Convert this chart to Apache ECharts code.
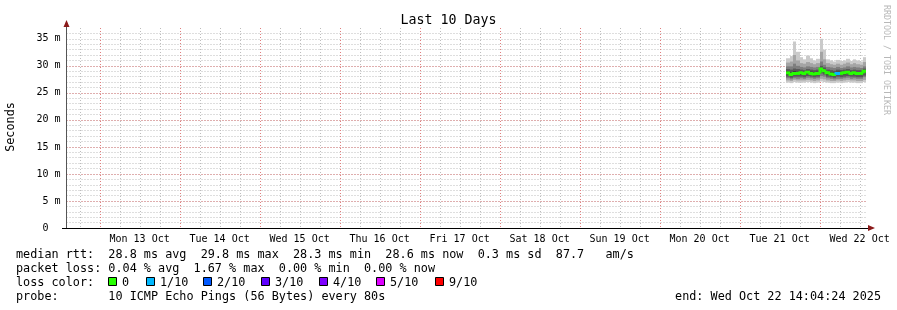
<!DOCTYPE html>
<html>
<head>
<meta charset="utf-8">
<script src="https://cdn.jsdelivr.net/npm/echarts@6/dist/echarts.min.js"></script>
<style>html,body{margin:0;padding:0;background:#fff}#c{width:897px;height:310px}</style>
</head>
<body>
<div id="c"></div>
<script>
// ---------- data ----------
const H = 3600 * 1000;
const T0 = Date.UTC(2025, 9, 12, 14, 4, 24);
const T1 = Date.UTC(2025, 9, 22, 14, 4, 24);
// hourly samples, each value covers the hour ending at its timestamp (Oct 21 15:00 .. Oct 22 14:00)
const sampleTimes = [];
for (let i = 0; i < 24; i++) sampleTimes.push(Date.UTC(2025, 9, 21, 15 + i));

// ten sorted pings per sample (ms)
const ping1  = [26.9,26.8,27.0,26.9,26.9,26.9,27.0,26.9,26.8,26.9,27.1,27.0,26.9,26.8,26.8,26.9,26.8,26.9,27.0,26.9,26.9,26.8,26.8,27.0];
const ping2  = [27.3,27.2,27.4,27.3,27.3,27.3,27.4,27.3,27.2,27.3,27.6,27.5,27.3,27.2,27.2,27.3,27.2,27.3,27.4,27.3,27.3,27.2,27.2,27.4];
const ping3  = [27.7,27.5,27.7,27.6,27.7,27.6,27.8,27.7,27.6,27.7,28.1,28.0,27.7,27.6,27.5,27.6,27.6,27.7,27.8,27.6,27.7,27.6,27.6,27.9];
const ping4  = [28.0,27.8,28.0,28.0,28.0,27.9,28.1,28.0,27.9,28.0,28.6,28.4,28.0,27.9,27.8,28.0,27.9,28.0,28.1,28.0,28.0,27.9,27.9,28.2];
const ping5  = [28.4,28.1,28.3,28.3,28.4,28.3,28.5,28.3,28.2,28.3,29.1,28.8,28.4,28.2,28.1,28.3,28.3,28.4,28.5,28.3,28.4,28.3,28.3,28.7];
const ping6  = [29.0,28.8,29.0,28.9,28.9,28.8,29.0,28.9,28.8,28.9,29.6,29.3,28.9,28.8,28.7,28.9,28.8,28.9,29.0,28.8,28.9,28.8,28.8,29.1];
const ping7  = [29.4,29.3,29.5,29.4,29.3,29.2,29.4,29.3,29.2,29.3,30.0,29.7,29.3,29.2,29.1,29.3,29.2,29.3,29.4,29.2,29.3,29.2,29.2,29.5];
const ping8  = [29.9,29.9,30.4,30.0,29.8,29.7,29.9,29.8,29.7,29.8,30.8,30.2,29.8,29.7,29.6,29.8,29.6,29.7,29.9,29.7,29.8,29.7,29.6,29.9];
const ping9  = [30.6,30.8,32.0,31.0,30.5,30.4,30.7,30.5,30.3,30.5,32.6,31.2,30.5,30.3,30.2,30.4,30.2,30.4,30.6,30.3,30.5,30.3,30.2,30.7];
const ping10 = [31.4,31.8,34.5,32.6,31.6,31.2,31.9,31.4,31.0,31.3,35.0,33.0,31.2,31.0,30.8,31.1,30.9,31.0,31.3,30.9,31.2,31.0,30.8,31.6];
const medianRtt = [28.7,28.4,28.6,28.6,28.7,28.6,28.8,28.6,28.5,28.6,29.4,29.1,28.7,28.5,28.4,28.6,28.6,28.7,28.8,28.6,28.7,28.6,28.6,29.0];
const lossCount = [0,0,0,0,0,0,0,0,0,0,0,0,0,0,0,1,0,0,0,0,0,0,0,0];

const lossLabels = ['0', '1/10', '2/10', '3/10', '4/10', '5/10', '9/10'];
const lossColors = ['#26ff00', '#00b8ff', '#0059ff', '#5e00ff', '#7e00ff', '#dd00ff', '#ff0000'];
const lossColorByCount = {0:'#26ff00',1:'#00b8ff',2:'#0059ff',3:'#5e00ff',4:'#7e00ff',5:'#dd00ff',9:'#ff0000'};

const xTickLabels = ['Mon 13 Oct','Tue 14 Oct','Wed 15 Oct','Thu 16 Oct','Fri 17 Oct','Sat 18 Oct','Sun 19 Oct','Mon 20 Oct','Tue 21 Oct','Wed 22 Oct'];
const yTicks = [0, 5, 10, 15, 20, 25, 30, 35];
const yTickLabels = ['0  ', '5 m', '10 m', '15 m', '20 m', '25 m', '30 m', '35 m'];

const legendLines = [
  'median rtt:  28.8 ms avg  29.8 ms max  28.3 ms min  28.6 ms now  0.3 ms sd  87.7   am/s',
  'packet loss: 0.04 % avg  1.67 % max  0.00 % min  0.00 % now',
  'loss color:',
  'probe:       10 ICMP Echo Pings (56 Bytes) every 80s'
];
const endText = 'end: Wed Oct 22 14:04:24 2025';

// ---------- axis tick positions ----------
const noonTicks = [], midnightTicks = [], sixHourTicks = [];
for (let d = 13; d <= 22; d++) { noonTicks.push(Date.UTC(2025, 9, d, 12)); midnightTicks.push(Date.UTC(2025, 9, d, 0)); }
for (let t = Date.UTC(2025, 9, 12, 18); t <= T1; t += 6 * H) {
  if (new Date(t).getUTCHours() !== 0) sixHourTicks.push(t);
}

const pings = [ping1, ping2, ping3, ping4, ping5, ping6, ping7, ping8, ping9, ping10];
const smokeColors = ['#cacaca', '#a4a4a4', '#7e7e7e', '#585858', '#323232'];
const MONO = 'DejaVu Sans Mono';

const chart = echarts.init(document.getElementById('c'), null, {renderer: 'canvas'});

const gridLeft = 66.5, gridRight = 30.5, gridTop = 28, gridBottom = 82;

const graphics = [];
const rowY = [256, 270, 284, 298];
legendLines.forEach((s, i) => {
  graphics.push({type: 'text', left: 16, top: rowY[i] - 7, style: {text: s, font: '11.8px ' + MONO, fill: '#000'}});
});
graphics.push({type: 'text', right: 16, top: rowY[3] - 7, style: {text: endText, font: '11.8px ' + MONO, fill: '#000'}});
const boxX = [108, 146, 203, 261, 319, 376, 435];
lossLabels.forEach((lab, i) => {
  graphics.push({type: 'rect', shape: {x: boxX[i] + 0.5, y: rowY[2] - 6.5, width: 8, height: 8}, style: {fill: lossColors[i], stroke: '#000', lineWidth: 1}});
  graphics.push({type: 'text', left: boxX[i] + 14, top: rowY[2] - 7, style: {text: lab, font: '11.8px ' + MONO, fill: '#000'}});
});
graphics.push({type: 'text', x: 11, y: 127, rotation: Math.PI / 2, style: {text: 'Seconds', font: '11.8px ' + MONO, fill: '#000', textAlign: 'center', textVerticalAlign: 'middle'}});
graphics.push({type: 'text', x: 886, y: 5, rotation: -Math.PI / 2, style: {text: 'RRDTOOL / TOBI OETIKER', font: '8.3px ' + MONO, fill: '#b8b8b8', textAlign: 'left', textVerticalAlign: 'middle'}});
graphics.push({type: 'polygon', shape: {points: [[63.5, 27], [69.5, 27], [66.5, 20]]}, style: {fill: '#8b1a1a'}, z: 10});
graphics.push({type: 'polygon', shape: {points: [[868, 225], [868, 231], [875, 228]]}, style: {fill: '#8b1a1a'}, z: 10});
graphics.push({type: 'line', shape: {x1: 66.5, y1: 27, x2: 66.5, y2: 29}, style: {stroke: '#555', lineWidth: 1}});
graphics.push({type: 'line', shape: {x1: 62, y1: 228.5, x2: 868, y2: 228.5}, style: {stroke: '#000', lineWidth: 1}, z: 5});

function vGrid(ticks, color) {
  return {
    type: 'custom', xAxisIndex: 0, yAxisIndex: 1, z: 1, silent: true,
    data: ticks.map(t => [t, 0]),
    encode: {x: 0, y: 1},
    renderItem: (params, api) => {
      const x = Math.round(api.coord([api.value(0), 0])[0]) + 0.5;
      const cs = params.coordSys;
      return {type: 'line', shape: {x1: x, y1: cs.y, x2: x, y2: cs.y + cs.height},
        style: {stroke: color, lineWidth: 1, lineDash: [1, 2]}};
    }
  };
}

const option = {
  animation: false,
  backgroundColor: '#fff',
  title: {text: 'Last 10 Days', left: 'center', top: 9,
    textStyle: {fontFamily: MONO, fontSize: 13.3, fontWeight: 'normal', color: '#000'}},
  grid: {left: gridLeft, right: gridRight, top: gridTop, bottom: gridBottom, containLabel: false, outerBoundsMode: 'none'},
  xAxis: [
    {type: 'value', min: T0, max: T1, position: 'bottom',
      axisLine: {show: false},
      axisTick: {show: false},
      splitLine: {show: false},
      axisLabel: {customValues: noonTicks, margin: 6, color: '#000', fontFamily: MONO, fontSize: 10,
        formatter: (v) => { const k = noonTicks.indexOf(v); return k >= 0 ? xTickLabels[k] : ''; }}}
  ],
  yAxis: [
    {type: 'value', min: 0, max: 37, interval: 1, position: 'left', show: true,
      axisLine: {show: false}, axisTick: {show: false}, axisLabel: {show: false},
      splitLine: {show: true, showMinLine: false, showMaxLine: false, lineStyle: {color: '#bdbdbd', type: [1, 2], width: 1}}},
    {type: 'value', min: 0, max: 37, position: 'left',
      axisLine: {show: true, lineStyle: {color: '#555', width: 1}},
      axisTick: {show: false, customValues: yTicks},
      splitLine: {show: true, showMinLine: false, showMaxLine: false, lineStyle: {color: '#e07f7f', type: [1, 2], width: 1}},
      axisLabel: {customValues: yTicks, margin: 6, color: '#000', fontFamily: MONO, fontSize: 10,
        formatter: (v) => { const k = yTicks.indexOf(v); return k >= 0 ? yTickLabels[k] : ''; }}}
  ],
  series: [
    vGrid(sixHourTicks, '#bdbdbd'),
    vGrid(midnightTicks, '#e07f7f'),
    {
      name: 'smoke', type: 'custom', xAxisIndex: 0, yAxisIndex: 1, z: 3,
      data: sampleTimes.map((t, i) => [t, ping1[i], ping10[i]]),
      encode: {x: 0, y: [1, 2]},
      renderItem: (params, api) => {
        const i = params.dataIndex;
        const tEnd = api.value(0);
        const children = [];
        for (let k = 0; k < 5; k++) {
          const lo = pings[k][i], hi = pings[9 - k][i];
          const a = api.coord([tEnd - H, hi]);
          const b = api.coord([tEnd, lo]);
          const x0 = Math.round(a[0]), x1 = Math.round(b[0]);
          children.push({type: 'rect', shape: {x: x0, y: a[1], width: x1 - x0, height: b[1] - a[1]},
            style: {fill: smokeColors[k]}});
        }
        return {type: 'group', children};
      }
    },
    {
      name: 'median rtt', type: 'custom', xAxisIndex: 0, yAxisIndex: 1, z: 4,
      data: sampleTimes.map((t, i) => [t, medianRtt[i], lossCount[i]]),
      encode: {x: 0, y: 1},
      renderItem: (params, api) => {
        const i = params.dataIndex;
        const tEnd = api.value(0);
        const a = api.coord([tEnd - H, medianRtt[i]]);
        const b = api.coord([tEnd, medianRtt[i]]);
        const prev = i > 0 ? api.coord([tEnd - H, medianRtt[i - 1]]) : a;
        const x0 = Math.round(a[0]), x1 = Math.round(b[0]);
        return {type: 'polyline', shape: {points: [[x0, prev[1]], [x0, a[1]], [x1, b[1]]]},
          style: {stroke: lossColorByCount[lossCount[i]], lineWidth: 3, fill: null, lineJoin: 'miter', lineCap: 'butt'}};
      }
    }
  ],
  graphic: graphics
};
chart.setOption(option);
</script>
</body>
</html>
